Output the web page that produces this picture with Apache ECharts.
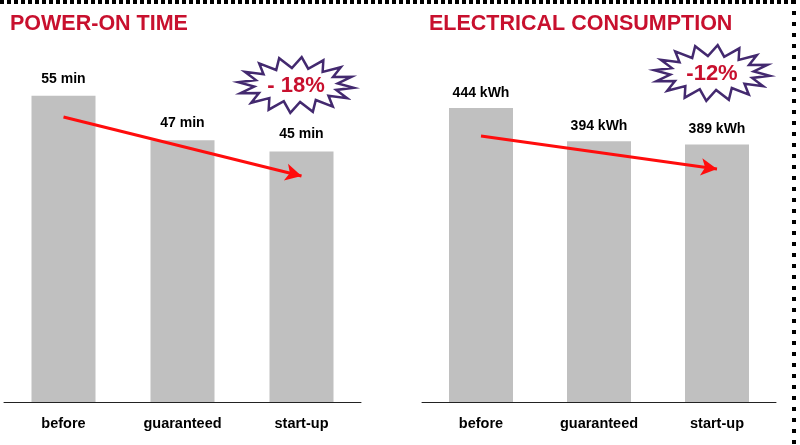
<!DOCTYPE html>
<html><head><meta charset="utf-8">
<script src="https://cdn.jsdelivr.net/npm/echarts@6/dist/echarts.min.js"></script>
<style>html,body{margin:0;padding:0;background:#fff}#c{width:800px;height:445px}</style>
</head><body><div id="c"></div>
<script>
var categories = ['before', 'guaranteed', 'start-up'];
var powerOnMinutes = [55, 47, 45];
var consumptionKWh = [444, 394, 389];
var titles = ['POWER-ON TIME', 'ELECTRICAL CONSUMPTION'];
var badges = ['- 18%', '-12%'];
var trendPower = [51.2, 40.6];
var trendEnergy = [401.7, 351.9];

function star(cx, cy, rx, ry, irx, iry, n) {
  var pts = [];
  for (var i = 0; i < n * 2; i++) {
    var a = Math.PI * i / n - Math.PI / 2 + Math.PI / (2 * n);
    var o = i % 2 === 0;
    pts.push([cx + Math.cos(a) * (o ? rx : irx), cy + Math.sin(a) * (o ? ry : iry)]);
  }
  return pts;
}

var chart = echarts.init(document.getElementById('c'), null, {renderer: 'canvas'});
var redTitle = '#c8102e';
var FF = 'Arial, Liberation Sans, sans-serif';
var labelStyle = {color: '#000', fontWeight: 'bold', fontSize: 14, fontFamily: FF};

function xAx(idx) {
  return {
    type: 'category', gridIndex: idx, data: categories,
    axisLine: {lineStyle: {color: '#222', width: 1}},
    axisTick: {show: false},
    axisLabel: Object.assign({margin: 14}, labelStyle, {fontSize: 14.5})
  };
}
function yAx(idx, max) {
  return {type: 'value', gridIndex: idx, min: 0, max: max, show: false};
}
function arrowLine(vals) {
  return {
    silent: true, symbol: ['none', 'arrow'], symbolSize: [13, 16],
    lineStyle: {color: '#ff0d0d', width: 3, type: 'solid'},
    label: {show: false},
    emphasis: {disabled: true},
    data: [[{coord: [categories[0], vals[0]]}, {coord: [categories[2], vals[1]]}]]
  };
}

chart.setOption({
  animation: false,
  backgroundColor: '#fff',
  title: [
    {text: titles[0], left: 5, top: 8, textStyle: {color: redTitle, fontSize: 21.5, fontWeight: 'bold', fontFamily: FF}},
    {text: titles[1], left: 424, top: 8, textStyle: {color: redTitle, fontSize: 21.5, fontWeight: 'bold', fontFamily: FF}}
  ],
  grid: [
    {left: 4, width: 357, top: 68, bottom: 43},
    {left: 422, width: 354, top: 71, bottom: 43}
  ],
  xAxis: [xAx(0), xAx(1)],
  yAxis: [yAx(0, 60), yAx(1, 500)],
  series: [
    {type: 'bar', xAxisIndex: 0, yAxisIndex: 0, data: powerOnMinutes, barWidth: 64,
     itemStyle: {color: '#c0c0c0'},
     label: Object.assign({show: true, position: 'top', distance: 10, formatter: '{c} min'}, labelStyle),
     markLine: arrowLine(trendPower)},
    {type: 'bar', xAxisIndex: 1, yAxisIndex: 1, data: consumptionKWh, barWidth: 64,
     itemStyle: {color: '#c0c0c0'},
     label: Object.assign({show: true, position: 'top', distance: 8, formatter: '{c} kWh'}, labelStyle),
     markLine: arrowLine(trendEnergy)}
  ],
  graphic: [
    {type: 'line', shape: {x1: 0, y1: 2, x2: 792, y2: 2}, style: {stroke: '#000', lineWidth: 4, lineDash: [4, 3]}},
    {type: 'line', shape: {x1: 794, y1: 0, x2: 794, y2: 445}, style: {stroke: '#000', lineWidth: 4, lineDash: [4, 7]}},
    {type: 'polygon', shape: {points: star(296, 85, 58, 28, 42, 17, 16)}, style: {fill: '#fff', stroke: '#43296f', lineWidth: 2.5, lineJoin: 'miter'}},
    {type: 'text', x: 296, y: 86, style: {text: badges[0], fill: redTitle, font: 'bold 22px ' + FF, textAlign: 'center', textVerticalAlign: 'middle'}},
    {type: 'polygon', shape: {points: star(712, 73, 58, 28, 42, 17, 16)}, style: {fill: '#fff', stroke: '#43296f', lineWidth: 2.5, lineJoin: 'miter'}},
    {type: 'text', x: 712, y: 74, style: {text: badges[1], fill: redTitle, font: 'bold 22px ' + FF, textAlign: 'center', textVerticalAlign: 'middle'}}
  ]
});
</script></body></html>
